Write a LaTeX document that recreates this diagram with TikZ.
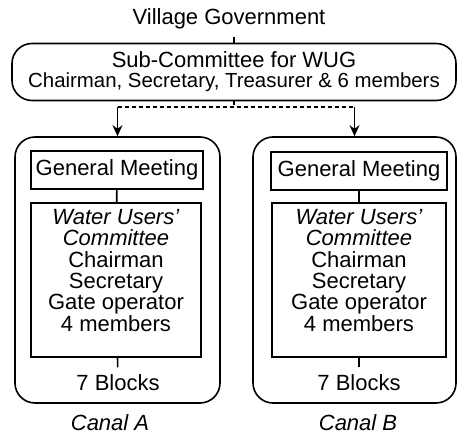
\documentclass[tikz,border=0pt]{standalone}
\usepackage{fontspec}
\setmainfont{Liberation Sans}
\usetikzlibrary{arrows.meta}

\tikzset{
    panel/.style={draw, rounded corners=10pt},
    unit/.style={draw, align=center, inner sep=1pt},
    forkline/.style={dash pattern=on 2pt off 1.5pt},
}

\begin{document}
\begin{tikzpicture}[x=0.5pt, y=-0.5pt, >={Stealth[length=5.5pt, width=5pt]}, thick,
                    font=\fontsize{11}{10.7}\selectfont]
    \useasboundingbox (0,0) rectangle (458,437);

    \node (gov) at (229,19) {Village Government};
    \node[panel, align=center, minimum width=222pt, minimum height=28.5pt, inner sep=1pt,
          font=\fontsize{11}{10}\selectfont] (sub) at (234,72)
        {Sub-Committee for WUG\\{\fontsize{10.2}{10}\selectfont Chairman, Secretary, Treasurer \& 6 members}};
    \draw (sub.north |- gov.south) -- (sub.north);

    % canal A
    \node[panel, minimum width=102.5pt, minimum height=133pt] (canalA) at (117.5,270) {};
    \node[unit, minimum width=86pt, minimum height=19pt] (meetA) at (117,170) {General Meeting};
    \node[unit, minimum width=85pt, minimum height=77pt] (wucA) at (116,280)
        {\textit{Water Users'}\\\textit{Committee}\\Chairman\\Secretary\\Gate operator\\4 members\\[-1pt]\mbox{}};
    \node (blocksA) at (118,383) {7 Blocks};
    \node[font=\fontsize{11}{10.7}\itshape] (labelA) at (110,423) {Canal A};
    \draw (meetA) -- (wucA);
    \draw (wucA) -- (blocksA);

    % canal B
    \node[panel, minimum width=101.5pt, minimum height=133pt] (canalB) at (354.5,270) {};
    \node[unit, minimum width=88pt, minimum height=19pt] (meetB) at (359,171) {General Meeting};
    \node[unit, minimum width=87pt, minimum height=77pt] (wucB) at (359,280)
        {\textit{Water Users'}\\\textit{Committee}\\Chairman\\Secretary\\Gate operator\\4 members\\[-1pt]\mbox{}};
    \node (blocksB) at (359,383) {7 Blocks};
    \node[font=\fontsize{11}{10.7}\itshape] (labelB) at (358,423) {Canal B};
    \draw (meetB) -- (wucB);
    \draw (wucB) -- (blocksB);

    % split of the sub-committee into both canals
    \coordinate (fork) at (234,107);
    \coordinate (forkA) at (canalA.north |- fork);
    \coordinate (forkB) at (canalB.north |- fork);
    \draw[forkline] (sub.south) -- (fork);
    \draw[forkline] (forkA) -- (forkB);
    \draw[->] (forkA) -- (canalA.north);
    \draw[->] (forkB) -- (canalB.north);
\end{tikzpicture}
\end{document}
